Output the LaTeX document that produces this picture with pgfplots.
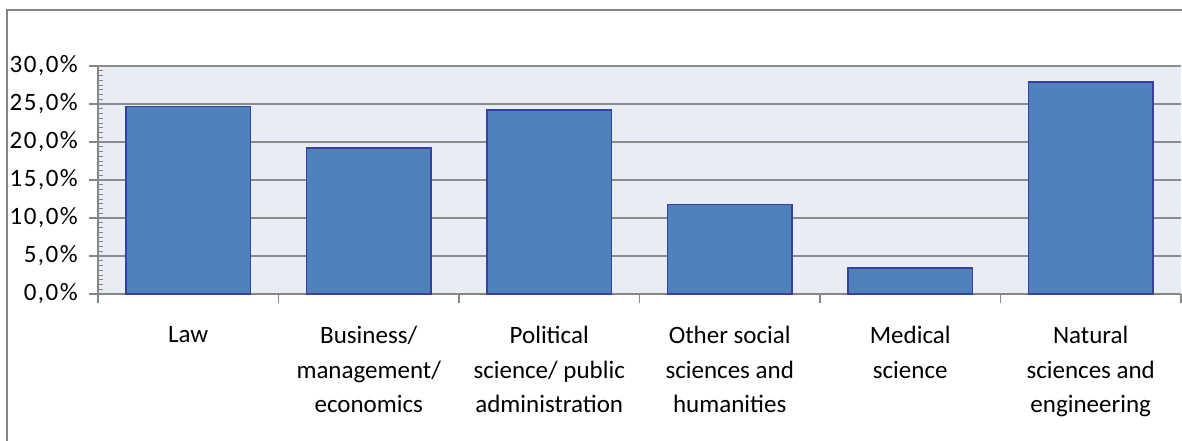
\documentclass[border=0pt]{standalone}
\usepackage{pgfplots}
\pgfplotsset{compat=1.18}
\usepackage{fontspec}
\setmainfont{Carlito}
\newfontfamily\tickfont{Carlito}[LetterSpace=6]

\definecolor{barfill}{RGB}{79,129,189}
\definecolor{baredge}{RGB}{58,62,158}
\definecolor{plotbg}{RGB}{232,236,244}
\definecolor{gridgray}{RGB}{140,140,140}
\definecolor{framegray}{RGB}{134,134,134}

\begin{document}
\begin{tikzpicture}
\useasboundingbox (0,0) rectangle (1182bp,-441bp);
% outer chart frame (only top and left edges fall inside the picture)
\draw[framegray, line width=2bp] (7bp,-460bp) -- (7bp,-10bp) -- (1200bp,-10bp);
\begin{axis}[
    at={(98bp,-294bp)}, anchor=south west,
    scale only axis,
    width=1083bp, height=228bp,
    xmin=-0.5, xmax=5.5,
    ymin=0, ymax=30,
    ybar, bar width=0.69,
    axis lines=left,
    axis line style={-, framegray, line width=1.2bp},
    axis background/.style={fill=plotbg},
    ymajorgrids,
    grid style={gridgray, line width=1.5bp},
    ytick={0,5,...,30},
    minor y tick num=7,
    xtick={-0.5,0.5,...,5.5},
    xticklabels={},
    extra x ticks={0,1,2,3,4,5},
    extra x tick labels={Law, Business/\\management/\\economics, Political\\science/ public\\administration, Other social\\sciences and\\humanities, Medical\\science, Natural\\sciences and\\engineering},
    extra tick style={major tick length=0pt},
    tick align=outside,
    major tick length=9bp,
    minor tick length=5bp,
    tick style={framegray, line width=1.2bp},
    minor tick style={xshift=5bp, framegray, line width=1bp},
    yticklabel={\pgfmathprintnumber[fixed,fixed zerofill,precision=1,use comma,assume math mode=true]{\tick}\%},
    yticklabel style={font=\tickfont\fontsize{25bp}{30bp}\selectfont, anchor=east, inner sep=0pt, xshift=-11bp},
    xticklabel style={font=\fontsize{25bp}{34.5bp}\selectfont, align=center, anchor=north, inner sep=0pt, yshift=-32bp},
    clip=false,
]
\addplot[fill=barfill, draw=baredge, line width=1.5bp] coordinates {
    (0,24.7) (1,19.2) (2,24.2) (3,11.8) (4,3.4) (5,27.9)
};
\end{axis}
\end{tikzpicture}
\end{document}
